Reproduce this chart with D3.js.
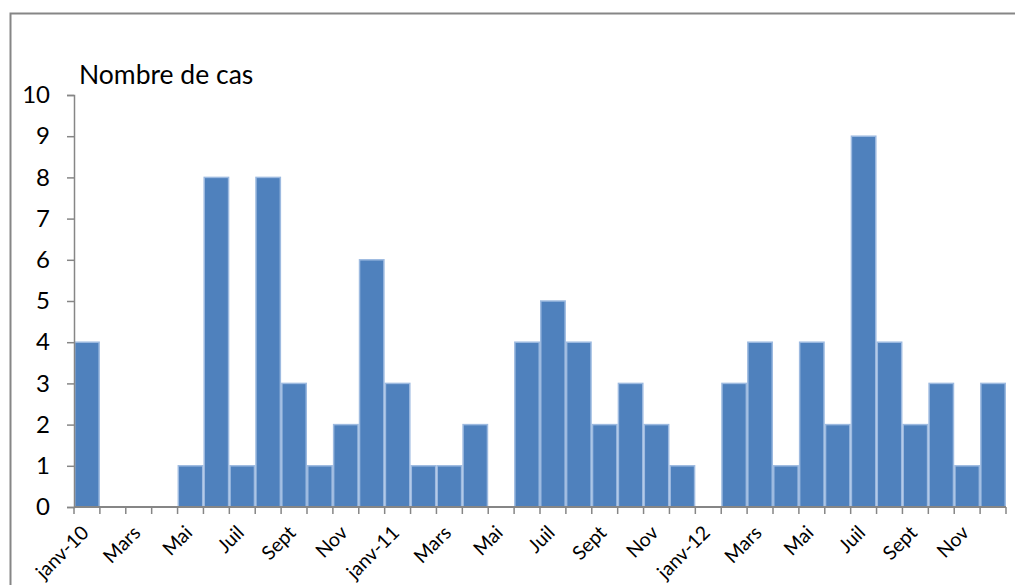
<!DOCTYPE html>
<html>
<head>
<meta charset="utf-8">
<script src="https://cdn.jsdelivr.net/npm/d3@7"></script>
<style>
  html, body { margin: 0; padding: 0; background: #fff; }
  svg { display: block; font-family: Lato, "Open Sans", sans-serif; }
</style>
</head>
<body>
<svg id="chart" width="1015" height="585"></svg>
<script>
// Monthly case counts, January 2010 – December 2012
const months = [
  "2010-01","2010-02","2010-03","2010-04","2010-05","2010-06",
  "2010-07","2010-08","2010-09","2010-10","2010-11","2010-12",
  "2011-01","2011-02","2011-03","2011-04","2011-05","2011-06",
  "2011-07","2011-08","2011-09","2011-10","2011-11","2011-12",
  "2012-01","2012-02","2012-03","2012-04","2012-05","2012-06",
  "2012-07","2012-08","2012-09","2012-10","2012-11","2012-12"
];
const cases = [
  4, 0, 0, 0, 1, 8, 1, 8, 3, 1, 2, 6,
  3, 1, 1, 2, 0, 4, 5, 4, 2, 3, 2, 1,
  0, 3, 4, 1, 4, 2, 9, 4, 2, 3, 1, 3
];
// Labels shown on every other month
const monthLabels = [
  "janv-10", "", "Mars", "", "Mai", "", "Juil", "", "Sept", "", "Nov", "",
  "janv-11", "", "Mars", "", "Mai", "", "Juil", "", "Sept", "", "Nov", "",
  "janv-12", "", "Mars", "", "Mai", "", "Juil", "", "Sept", "", "Nov", ""
];
const yTicks = [0, 1, 2, 3, 4, 5, 6, 7, 8, 9, 10];
const yTitle = "Nombre de cas";

const svg = d3.select("#chart");

// outer chart frame
svg.append("rect")
  .attr("x", 10.5).attr("y", 13.5)
  .attr("width", 1010).attr("height", 600)
  .attr("fill", "none").attr("stroke", "#868686").attr("stroke-width", 2);

const plotLeft = 74, plotRight = 1006, plotTop = 95, plotBottom = 507;

const x = d3.scaleBand().domain(months).range([plotLeft, plotRight]).padding(0);
const y = d3.scaleLinear().domain([0, 10]).range([plotBottom, plotTop]);

// bars
svg.append("g").selectAll("rect")
  .data(months)
  .join("rect")
  .attr("x", d => x(d) + 0.75)
  .attr("width", x.bandwidth() - 1.5)
  .attr("y", (d, i) => y(cases[i]))
  .attr("height", (d, i) => y(0) - y(cases[i]))
  .attr("fill", "#4F81BD")
  .attr("stroke", "#9DBAE0")
  .attr("stroke-width", 1.5)
  .attr("display", (d, i) => cases[i] > 0 ? null : "none");

// y axis
const yAxis = d3.axisLeft(y).tickValues(yTicks).tickFormat(d3.format("d")).tickSize(7).tickPadding(17);
const gy = svg.append("g").attr("transform", `translate(${plotLeft},0)`).call(yAxis);
gy.select(".domain").attr("stroke", "#868686").attr("stroke-width", 1.5);
gy.selectAll(".tick line").attr("stroke", "#868686").attr("stroke-width", 1.5);
gy.selectAll(".tick text").attr("font-size", 24).attr("fill", "#000")
  .attr("font-family", "Lato, 'Open Sans', sans-serif");

// x axis: ticks on month boundaries
const boundaries = months.map(m => x(m)).concat([plotRight]);
const gx = svg.append("g");
gx.append("line")
  .attr("x1", plotLeft).attr("x2", plotRight)
  .attr("y1", plotBottom).attr("y2", plotBottom)
  .attr("stroke", "#868686").attr("stroke-width", 2);
gx.selectAll("line.tick")
  .data(boundaries)
  .join("line")
  .attr("class", "tick")
  .attr("x1", d => d).attr("x2", d => d)
  .attr("y1", plotBottom).attr("y2", plotBottom + 7)
  .attr("stroke", "#868686").attr("stroke-width", 1.5);
gx.selectAll("text")
  .data(months.filter((m, i) => monthLabels[i] !== ""))
  .join("text")
  .attr("transform", d => `translate(${x(d) + x.bandwidth() / 2 + 3},${plotBottom + 27}) rotate(-45)`)
  .attr("text-anchor", "end")
  .attr("font-size", 19.5)
  .attr("fill", "#000")
  .text(d => monthLabels[months.indexOf(d)]);

// axis title
svg.append("text")
  .attr("x", 79).attr("y", 84)
  .attr("font-size", 26.5)
  .attr("fill", "#000")
  .text(yTitle);
</script>
</body>
</html>
